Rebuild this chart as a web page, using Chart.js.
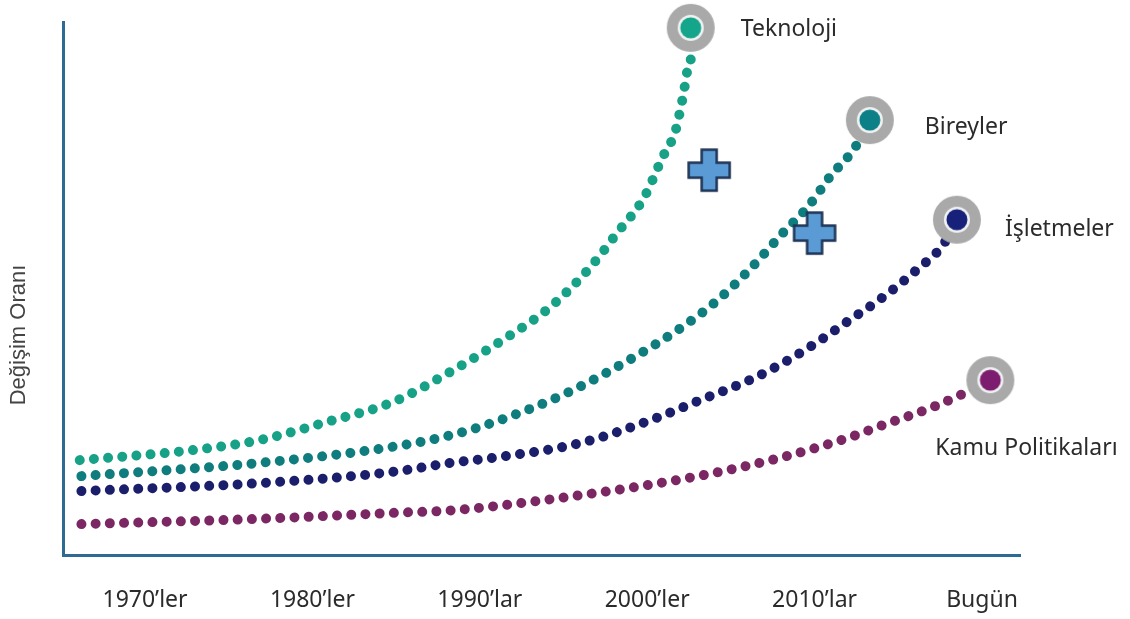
<!DOCTYPE html>
<html lang="tr">
<head>
    <meta charset="UTF-8">
    <title>Değişim Oranı</title>
    <script src="https://cdn.jsdelivr.net/npm/chart.js@4.4.0/dist/chart.umd.min.js"></script>
    <style>
        html, body { margin: 0; padding: 0; background: #fff; }
        #wrap { width: 1130px; height: 619px; }
    </style>
</head>
<body>
<div id="wrap"><canvas id="myChart" width="1130" height="619"></canvas></div>
<script>
    // x = decade index (0 = 1970'ler ... 5 = Bugün), y = relative rate of change
    var tickLabels = ["1970\u2019ler", "1980\u2019ler", "1990\u2019lar", "2000\u2019ler", "2010\u2019lar", "Bugün"];
    var seriesNames = ["Teknoloji", "Bireyler", "İşletmeler", "Kamu Politikaları"];

    var teknolojiX = [-0.39, 0.29, 0.69, 1.09, 1.48, 1.82, 2.12, 2.42, 2.66, 2.82, 2.98, 3.09, 3.17, 3.21, 3.26, 3.26];
    var teknolojiY = [17.8, 19.7, 21.6, 25.0, 28.7, 34.3, 40.0, 46.5, 54.0, 60.4, 67.0, 74.5, 79.7, 85.4, 92.9, 98.9];

    var bireylerX = [-0.38, 0.69, 1.48, 1.83, 2.12, 2.52, 2.92, 3.21, 3.42, 3.61, 3.81, 3.97, 4.09, 4.24, 4.33];
    var bireylerY = [14.8, 17.3, 20.3, 22.5, 25.3, 30.4, 37.1, 42.8, 47.8, 53.5, 60.4, 65.7, 70.9, 76.4, 81.6];

    var isletmelerX = [-0.38, 0.69, 1.48, 1.83, 2.12, 2.60, 3.02, 3.32, 3.61, 3.81, 4.01, 4.21, 4.41, 4.61, 4.77, 4.85];
    var isletmelerY = [12.0, 13.5, 15.6, 17.3, 18.4, 21.0, 25.3, 29.1, 32.8, 36.0, 39.8, 44.1, 48.4, 53.5, 58.3, 62.9];

    var kamuX = [-0.38, 0.69, 1.48, 1.84, 2.48, 3.27, 3.79, 4.21, 4.41, 4.71, 4.91, 5.05];
    var kamuY = [5.8, 6.8, 7.9, 8.4, 10.7, 14.6, 18.2, 22.1, 24.4, 27.8, 30.6, 32.8];

    var plusX = [3.37, 4.00];
    var plusY = [72.2, 60.4];

    var dotColors = ["#17a287", "#0f7d7e", "#1b1f6b", "#7a2763"];
    var coreColors = ["#14a58a", "#0d7f86", "#17217a", "#7d1d6f"];
    var labelDx = [50, 55, 48, -55];
    var labelDy = [2, 7, 10, 68];

    function toPoints(xs, ys) {
        var pts = [];
        for (var i = 0; i < xs.length; i++) {
            pts.push({x: xs[i], y: ys[i]});
        }
        return pts;
    }

    function makeMarker(color) {
        var c = document.createElement('canvas');
        c.width = 52; c.height = 52;
        var g = c.getContext('2d');
        g.fillStyle = '#a9a9a9';
        g.beginPath(); g.arc(26, 26, 24, 0, Math.PI * 2); g.fill();
        g.fillStyle = '#f2f4f4';
        g.beginPath(); g.arc(26, 26, 13, 0, Math.PI * 2); g.fill();
        g.fillStyle = color;
        g.beginPath(); g.arc(26, 26, 10.5, 0, Math.PI * 2); g.fill();
        return c;
    }

    function makePlus() {
        var c = document.createElement('canvas');
        c.width = 48; c.height = 46;
        var g = c.getContext('2d');
        var cx = 24, cy = 23, a = 7.5, L = 20.5;
        g.beginPath();
        g.moveTo(cx - a, cy - L); g.lineTo(cx + a, cy - L); g.lineTo(cx + a, cy - a);
        g.lineTo(cx + L, cy - a); g.lineTo(cx + L, cy + a); g.lineTo(cx + a, cy + a);
        g.lineTo(cx + a, cy + L); g.lineTo(cx - a, cy + L); g.lineTo(cx - a, cy + a);
        g.lineTo(cx - L, cy + a); g.lineTo(cx - L, cy - a); g.lineTo(cx - a, cy - a);
        g.closePath();
        g.fillStyle = '#5b9bd5';
        g.fill();
        g.lineWidth = 2.5;
        g.strokeStyle = '#1f3556';
        g.stroke();
        return c;
    }

    var xsAll = [teknolojiX, bireylerX, isletmelerX, kamuX];
    var ysAll = [teknolojiY, bireylerY, isletmelerY, kamuY];
    var datasets = [];

    datasets.push({
        label: 'plus',
        data: toPoints(plusX, plusY),
        showLine: false,
        pointStyle: makePlus(),
        pointRadius: 20,
        order: -1,
        clip: false
    });

    for (var s = 0; s < 4; s++) {
        (function (s) {
            var marker = makeMarker(coreColors[s]);
            var last = xsAll[s].length - 1;
            datasets.push({
                label: seriesNames[s],
                data: toPoints(xsAll[s], ysAll[s]),
                borderColor: dotColors[s],
                borderWidth: 10,
                borderDash: [0.01, 14.2],
                borderCapStyle: 'round',
                cubicInterpolationMode: 'monotone',
                fill: false,
                clip: false,
                pointStyle: function (ctx) { return ctx.dataIndex === last ? marker : 'circle'; },
                pointRadius: function (ctx) { return ctx.dataIndex === last ? 24 : 0; },
                pointHoverRadius: function (ctx) { return ctx.dataIndex === last ? 24 : 0; }
            });
        })(s);
    }

    var labelPlugin = {
        id: 'endLabels',
        afterDatasetsDraw: function (chart) {
            var ctx = chart.ctx;
            ctx.save();
            ctx.font = '23px "Noto Sans"';
            ctx.fillStyle = '#2b2b2b';
            ctx.textBaseline = 'middle';
            ctx.textAlign = 'left';
            for (var s = 0; s < 4; s++) {
                var meta = chart.getDatasetMeta(s + 1);
                var pt = meta.data[meta.data.length - 1];
                ctx.fillText(seriesNames[s], pt.x + labelDx[s], pt.y + labelDy[s]);
            }
            // y axis title
            ctx.translate(19, 335);
            ctx.rotate(-Math.PI / 2);
            ctx.textAlign = 'center';
            ctx.font = '22px "Liberation Sans"';
            ctx.fillStyle = '#444';
            ctx.fillText('Değişim Oranı', 0, 0);
            ctx.restore();
        }
    };

    var ctx = document.getElementById('myChart');
    var myChart = new Chart(ctx, {
        type: 'line',
        data: { datasets: datasets },
        plugins: [labelPlugin],
        options: {
            responsive: false,
            animation: false,
            events: [],
            layout: { autoPadding: false, padding: { top: 22, right: 110, left: 0, bottom: 0 } },
            plugins: {
                legend: { display: false },
                tooltip: { enabled: false }
            },
            scales: {
                x: {
                    type: 'linear',
                    min: -0.49,
                    max: 5.227,
                    grid: { display: false, drawTicks: false },
                    border: { display: true, color: '#2d6b93', width: 3 },
                    afterBuildTicks: function (axis) {
                        axis.ticks = tickLabels.map(function (t, i) { return {value: i}; });
                    },
                    afterFit: function (axis) { axis.height = 64; },
                    ticks: {
                        padding: 32,
                        color: '#2b2b2b',
                        font: { size: 23, family: 'Noto Sans' },
                        maxRotation: 0,
                        autoSkip: false,
                        callback: function (v) { return tickLabels[v]; }
                    }
                },
                y: {
                    min: 0,
                    max: 100,
                    grid: { display: false, drawTicks: false },
                    border: { display: true, color: '#2d6b93', width: 3 },
                    ticks: { display: false },
                    afterFit: function (axis) { axis.width = 63; }
                }
            }
        }
    });
</script>
</body>
</html>
